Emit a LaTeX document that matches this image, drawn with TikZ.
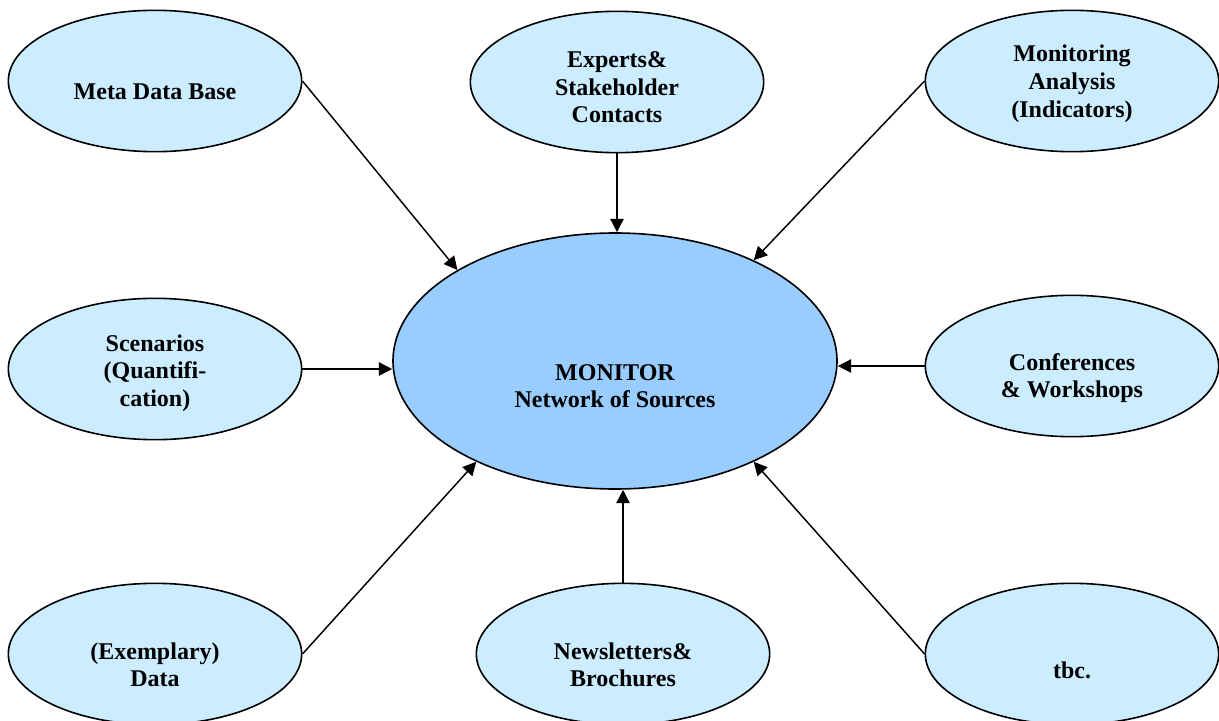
\documentclass[tikz,border=0pt]{standalone}
\usepackage{fontspec}
\setmainfont{Liberation Serif}
\usetikzlibrary{arrows.meta,shapes.geometric}
\definecolor{srcfill}{RGB}{204,236,255}
\definecolor{monfill}{RGB}{153,204,255}
\tikzset{
  src/.style={ellipse, draw=black, line width=1.2pt, fill=srcfill, inner sep=0pt,
    minimum width=220pt, minimum height=106pt},
  hub/.style={src, fill=monfill, minimum width=333pt, minimum height=192pt},
  txt/.style={align=center, font=\bfseries\fontsize{18}{20.7}\selectfont, inner sep=0pt},
  flow/.style={-{Triangle[length=10pt,width=10pt]}, line width=1.1pt},
}
\begin{document}
\begin{tikzpicture}[x=0.75pt, y=-0.75pt]
\useasboundingbox (0,0) rectangle (1219,720);
\clip (0,0) rectangle (1219,720);
% centre
\node[hub, label={[txt, yshift=-19pt]center:MONITOR\\Network of Sources}] (mon) at (615,361) {};
% sources
\node[src, label={[txt, yshift=-8pt]center:Meta Data Base}] (meta) at (155,81) {};
\node[src, label={[txt, yshift=-4pt]center:Experts\&\\Stakeholder\\Contacts}] (exp) at (617,82) {};
\node[src, label={[txt, yshift=-2pt]center:Monitoring\\Analysis\\(Indicators)}] (mtr) at (1072,81) {};
\node[src, label={[txt, yshift=-3pt]center:Scenarios\\(Quantifi-\\cation)}] (scen) at (155,369) {};
\node[src, label={[txt, yshift=-9pt]center:Conferences\\\& Workshops}] (conf) at (1072,366) {};
\node[src, label={[txt, yshift=-8pt]center:(Exemplary)\\Data}] (exm) at (155,654) {};
\node[src, label={[txt, yshift=-8pt]center:Newsletters\&\\Brochures}] (news) at (623,654) {};
\node[src, label={[txt, yshift=-12pt]center:tbc.}] (tbc) at (1072,654) {};
% arrows
\draw[flow] (meta.east) -- (mon.150);
\draw[flow] (exp.south) -- (exp.south |- mon.north);
\draw[flow] (mtr.west) -- (mon.36);
\draw[flow] (scen.east) -- (scen.east -| mon.west);
\draw[flow] (conf.west) -- (conf.west -| mon.east);
\draw[flow] (exm.east) -- (mon.-144);
\draw[flow] (news.north) -- (news.north |- mon.south);
\draw[flow] (tbc.west) -- (mon.-36);
\end{tikzpicture}
\end{document}
